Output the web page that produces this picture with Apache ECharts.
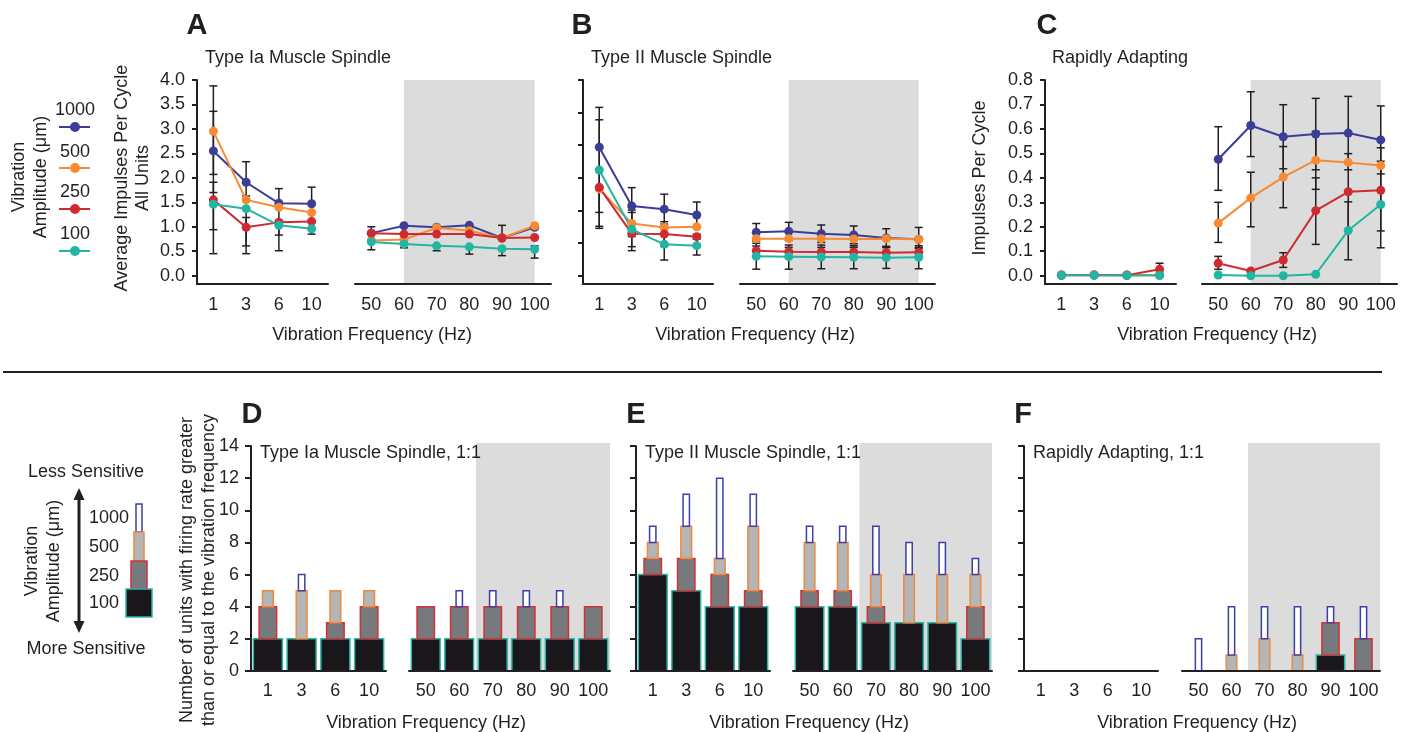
<!DOCTYPE html>
<html>
<head>
<meta charset="utf-8">
<script src="https://cdn.jsdelivr.net/npm/echarts@6/dist/echarts.min.js"></script>
<style>
  html, body { margin: 0; padding: 0; background: #ffffff; }
  #chart { width: 1408px; height: 732px; }
</style>
</head>
<body>
<div id="chart"></div>
<script>
// ---------- data ----------
const LOW_FREQ = ['1', '3', '6', '10'];
const HIGH_FREQ = ['50', '60', '70', '80', '90', '100'];
const AMPLITUDES = ['1000', '500', '250', '100'];
const TOP_SHADE = ['60', '100'];     // shaded frequencies, top row (point to point)
const BOTTOM_SHADE = ['70', '100'];  // shaded frequencies, bottom row (whole bands)

// Tick values of the y axes
const IA_TICKS = [0, 0.5, 1.0, 1.5, 2.0, 2.5, 3.0, 3.5, 4.0];
const II_TICKS = [0, 0.5, 1.0, 1.5, 2.0, 2.5, 3.0];
const RA_TICKS = [0, 0.1, 0.2, 0.3, 0.4, 0.5, 0.6, 0.7, 0.8];
const UNIT_TICKS = [0, 2, 4, 6, 8, 10, 12, 14];

// A: Type Ia muscle spindle, average impulses per cycle (1, 3, 6, 10 | 50 ... 100 Hz)
const ia1000 = [2.55, 1.91, 1.48, 1.47, 0.87, 1.02, 0.99, 1.03, 0.77, 0.99];
const ia500  = [2.95, 1.55, 1.40, 1.29, 0.72, 0.74, 0.98, 0.92, 0.77, 1.02];
const ia250  = [1.55, 0.99, 1.09, 1.11, 0.87, 0.85, 0.85, 0.85, 0.77, 0.78];
const ia100  = [1.46, 1.37, 1.03, 0.96, 0.69, 0.65, 0.61, 0.59, 0.55, 0.54];
// error bars [low, high]
const ia1000Err = [[1.70, 3.36], [1.63, 2.33], [1.13, 1.78], [1.12, 1.81], null, null, null, null, null, null];
const ia500Err  = [[2.07, 3.88], null, null, null, null, null, null, null, null, null];
const ia250Err  = [[0.45, 1.55], [0.45, 1.19], [0.83, 1.09], null, [0.87, 1.00], null, null, [0.85, 0.86], [0.77, 1.03], null];
const ia100Err  = [[0.94, 1.91], [0.61, 1.37], [0.51, 1.03], [0.85, 0.96], [0.53, 0.69], [0.57, 0.65], [0.51, 0.61], [0.44, 0.59], [0.41, 0.55], [0.36, 0.61]];

// B: Type II muscle spindle
const ii1000 = [1.97, 1.07, 1.02, 0.93, 0.665, 0.68, 0.644, 0.624, 0.578, 0.557];
const ii500  = [1.33, 0.80, 0.74, 0.75, 0.568, 0.568, 0.568, 0.563, 0.568, 0.557];
const ii250  = [1.355, 0.644, 0.639, 0.598, 0.384, 0.368, 0.363, 0.363, 0.353, 0.358];
const ii100  = [1.62, 0.711, 0.481, 0.46, 0.297, 0.292, 0.287, 0.282, 0.277, 0.282];
const ii1000Err = [[1.36, 2.58], [0.79, 1.35], [0.79, 1.25], [0.733, 1.129], [0.53, 0.80], [0.54, 0.818], [0.51, 0.777], [0.49, 0.762], [0.44, 0.72], [0.42, 0.74]];
const ii500Err  = [[0.726, 1.33], [0.60, 1.007], null, null, null, null, null, null, null, null];
const ii250Err  = [[0.757, 1.355], [0.384, 0.644], [0.45, 0.828], [0.56, 0.635], [0.31, 0.455], [0.30, 0.435], [0.29, 0.435], [0.29, 0.435], [0.28, 0.43], [0.28, 0.435]];
const ii100Err  = [[0.97, 2.39], [0.445, 0.97], [0.24, 0.72], [0.317, 0.60], [0.10, 0.497], [0.10, 0.47], [0.107, 0.47], [0.107, 0.46], [0.112, 0.45], [0.107, 0.46]];

// C: Rapidly adapting
const ra1000 = [0.003, 0.003, 0.003, 0.003, 0.476, 0.614, 0.568, 0.579, 0.583, 0.555];
const ra500  = [0.003, 0.003, 0.003, 0.003, 0.215, 0.318, 0.403, 0.472, 0.463, 0.450];
const ra250  = [0.002, 0.003, 0.002, 0.026, 0.051, 0.019, 0.064, 0.266, 0.343, 0.349];
const ra100  = [0.002, 0.002, 0.001, 0.001, 0.003, 0.0, 0.0, 0.006, 0.185, 0.291];
const ra1000Err = [null, null, null, null, [0.349, 0.609], [0.487, 0.752], [0.437, 0.699], [0.433, 0.725], [0.433, 0.733], [0.416, 0.694]];
const ra500Err  = [null, null, null, null, [0.136, 0.300], [0.200, 0.423], [0.278, 0.528], [0.353, 0.590], null, null];
const ra250Err  = [null, null, null, [0.0, 0.051], [0.026, 0.079], null, [0.034, 0.094], [0.128, 0.400], [0.187, 0.499], [0.183, 0.523]];
const ra100Err  = [null, null, null, null, null, null, null, null, [0.065, 0.302], [0.114, 0.468]];

// D-F: cumulative number of units following 1:1 at each amplitude
const iaUnits100  = [2, 2, 2, 2, 2, 2, 2, 2, 2, 2];
const iaUnits250  = [4, 2, 3, 4, 4, 4, 4, 4, 4, 4];
const iaUnits500  = [5, 5, 5, 5, 4, 4, 4, 4, 4, 4];
const iaUnits1000 = [5, 6, 5, 5, 4, 5, 5, 5, 5, 4];

const iiUnits100  = [6, 5, 4, 4, 4, 4, 3, 3, 3, 2];
const iiUnits250  = [7, 7, 6, 5, 5, 5, 4, 3, 3, 4];
const iiUnits500  = [8, 9, 7, 9, 8, 8, 6, 6, 6, 6];
const iiUnits1000 = [9, 11, 12, 11, 9, 9, 9, 8, 8, 7];

const raUnits100  = [0, 0, 0, 0, 0, 0, 0, 0, 1, 0];
const raUnits250  = [0, 0, 0, 0, 0, 0, 0, 0, 3, 2];
const raUnits500  = [0, 0, 0, 0, 0, 1, 2, 1, 3, 2];
const raUnits1000 = [0, 0, 0, 0, 2, 4, 4, 4, 4, 4];

// ---------- styling ----------
const FONT = '"Liberation Sans", Arial, Helvetica, sans-serif';
const INK = '#231f20';
const SHADE = '#dcdcdc';
const COLORS = { '1000': '#3b3d97', '500': '#f68b33', '250': '#d02a31', '100': '#22b5a2' };
// nested bars, most sensitive (100 µm) first
const BAR_WIDTHS = [0.86, 0.52, 0.32, 0.19];
const BAR_STYLES = [
  { fill: '#19171b', stroke: '#2cb6a6' },
  { fill: '#77797c', stroke: '#cf3238' },
  { fill: '#b3b5b7', stroke: '#f0893a' },
  { fill: '#ffffff', stroke: '#3b40a4' }
];

const TOP_Y = 80, ZERO_Y = 275.7, AXIS_Y = 284;
const BOT_TOP = 446, BOT_AXIS = 671;

const grids = [], xAxes = [], yAxes = [], series = [];

function addGrid(left, top, width, height) {
  grids.push({ left: left, top: top, width: width, height: height });
  return grids.length - 1;
}

function errorBar(params, api) {
  const x = api.value(0);
  const lo = api.coord([x, api.value(1)]);
  const hi = api.coord([x, api.value(2)]);
  const cap = 4;
  const style = { stroke: INK, lineWidth: 1.5 };
  return {
    type: 'group',
    children: [
      { type: 'line', shape: { x1: lo[0], y1: lo[1], x2: hi[0], y2: hi[1] }, style: style },
      { type: 'line', shape: { x1: lo[0] - cap, y1: lo[1], x2: lo[0] + cap, y2: lo[1] }, style: style },
      { type: 'line', shape: { x1: hi[0] - cap, y1: hi[1], x2: hi[0] + cap, y2: hi[1] }, style: style }
    ]
  };
}

function shadeSeries(ax, range, wholeBands, yTop) {
  return {
    type: 'custom', xAxisIndex: ax, yAxisIndex: ax, silent: true, clip: false, z: 1,
    data: [[HIGH_FREQ.indexOf(range[0]), HIGH_FREQ.indexOf(range[1])]],
    renderItem: function (params, api) {
      const cs = params.coordSys;
      const band = api.size([1, 0])[0];
      const a = api.coord([api.value(0), yTop]);
      const b = api.coord([api.value(1), yTop]);
      let x1 = a[0], x2 = b[0], y1 = a[1];
      if (wholeBands) { x1 -= band / 2; x2 += band / 2; y1 -= 3; }
      return { type: 'rect', shape: { x: x1, y: y1, width: x2 - x1, height: cs.y + cs.height - y1 }, style: { fill: SHADE } };
    }
  };
}

function nestedBars(params, api) {
  const x = api.value(0);
  const band = api.size([1, 0])[0];
  const children = [];
  let prev = 0;
  for (let k = 0; k < 4; k++) {
    const v = api.value(k + 1);
    if (v > prev) {
      const top = api.coord([x, v]);
      const bottom = api.coord([x, prev]);
      const w = band * BAR_WIDTHS[k];
      children.push({
        type: 'rect',
        shape: { x: top[0] - w / 2, y: top[1], width: w, height: bottom[1] - top[1] },
        style: { fill: BAR_STYLES[k].fill, stroke: BAR_STYLES[k].stroke, lineWidth: 1.5 }
      });
      prev = v;
    }
  }
  return { type: 'group', children: children };
}

function categoryAxis(gi, cats, centeredTicks, tickLen) {
  return {
    gridIndex: gi, type: 'category', data: cats, boundaryGap: true, z: 10,
    axisLine: { onZero: false, lineStyle: { color: INK, width: 2 } },
    axisTick: { alignWithLabel: centeredTicks, interval: 0, length: tickLen, lineStyle: { color: INK, width: 2 } },
    axisLabel: { interval: 0, color: INK, fontSize: 18, fontFamily: FONT, margin: centeredTicks ? 12 : 11 },
    splitLine: { show: false }
  };
}

function valueAxis(gi, min, max, ticks, showAxis, showLabels, decimals) {
  return {
    gridIndex: gi, type: 'value', min: min, max: max, show: showAxis, z: 10,
    axisLine: { show: true, lineStyle: { color: INK, width: 2 } },
    axisTick: { show: true, length: 5, customValues: ticks, lineStyle: { color: INK, width: 2 } },
    axisLabel: {
      show: showLabels, customValues: ticks, color: INK, fontSize: 18, fontFamily: FONT, margin: 12,
      formatter: function (v) { return Number(v).toFixed(decimals); }
    },
    splitLine: { show: false }
  };
}

function linePanel(p) {
  const pxPerUnit = (ZERO_Y - TOP_Y) / p.yMax;
  const yMin = -(AXIS_Y - ZERO_Y) / pxPerUnit;
  [LOW_FREQ, HIGH_FREQ].forEach(function (cats, g) {
    const gi = addGrid(p.lefts[g], TOP_Y, p.widths[g], AXIS_Y - TOP_Y);
    xAxes.push(categoryAxis(gi, cats, true, 6));
    yAxes.push(valueAxis(gi, yMin, p.yMax, p.ticks, g === 0, p.labels, 1));
    const off = g === 0 ? 0 : LOW_FREQ.length;
    if (g === 1) series.push(shadeSeries(gi, TOP_SHADE, false, p.yMax));
    const errData = [];
    AMPLITUDES.forEach(function (a) {
      p.errs[a].slice(off, off + cats.length).forEach(function (e, i) {
        if (e) errData.push([i, e[0], e[1]]);
      });
    });
    series.push({ type: 'custom', xAxisIndex: gi, yAxisIndex: gi, data: errData, renderItem: errorBar, silent: true, clip: false, z: 3 });
    AMPLITUDES.forEach(function (a) {
      series.push({
        type: 'line', xAxisIndex: gi, yAxisIndex: gi, name: a,
        data: p.means[a].slice(off, off + cats.length),
        symbol: 'circle', symbolSize: 9, showSymbol: true,
        itemStyle: { color: COLORS[a] }, lineStyle: { color: COLORS[a], width: 2 },
        silent: true, z: 4
      });
    });
  });
}

function barPanel(p) {
  [LOW_FREQ, HIGH_FREQ].forEach(function (cats, g) {
    const gi = addGrid(p.lefts[g], BOT_TOP, p.widths[g], BOT_AXIS - BOT_TOP);
    xAxes.push(categoryAxis(gi, cats, false, 7));
    const ya = valueAxis(gi, 0, 14, UNIT_TICKS, g === 0, p.labels, 0);
    ya.axisTick.length = 6;
    yAxes.push(ya);
    const off = g === 0 ? 0 : LOW_FREQ.length;
    if (g === 1) series.push(shadeSeries(gi, BOTTOM_SHADE, true, 14));
    const data = cats.map(function (c, i) {
      const j = off + i;
      return [i, p.units[0][j], p.units[1][j], p.units[2][j], p.units[3][j]];
    });
    series.push({ type: 'custom', xAxisIndex: gi, yAxisIndex: gi, data: data, renderItem: nestedBars, silent: true, clip: false, z: 3 });
  });
}

linePanel({ lefts: [197, 355], widths: [131, 196], yMax: 4.0, ticks: IA_TICKS, labels: true,
  means: { '1000': ia1000, '500': ia500, '250': ia250, '100': ia100 },
  errs: { '1000': ia1000Err, '500': ia500Err, '250': ia250Err, '100': ia100Err } });
linePanel({ lefts: [583, 740], widths: [130, 195], yMax: 3.0, ticks: II_TICKS, labels: false,
  means: { '1000': ii1000, '500': ii500, '250': ii250, '100': ii100 },
  errs: { '1000': ii1000Err, '500': ii500Err, '250': ii250Err, '100': ii100Err } });
linePanel({ lefts: [1045, 1202], widths: [131, 195], yMax: 0.8, ticks: RA_TICKS, labels: true,
  means: { '1000': ra1000, '500': ra500, '250': ra250, '100': ra100 },
  errs: { '1000': ra1000Err, '500': ra500Err, '250': ra250Err, '100': ra100Err } });

barPanel({ lefts: [251, 409], widths: [135, 201], labels: true,
  units: [iaUnits100, iaUnits250, iaUnits500, iaUnits1000] });
barPanel({ lefts: [636, 793], widths: [134, 199], labels: false,
  units: [iiUnits100, iiUnits250, iiUnits500, iiUnits1000] });
barPanel({ lefts: [1024, 1182], widths: [134, 198], labels: false,
  units: [raUnits100, raUnits250, raUnits500, raUnits1000] });

// ---------- text, legends, separator ----------
function txt(text, x, y, opts) {
  opts = opts || {};
  return {
    type: 'text', x: x, y: y, rotation: opts.rotation || 0, silent: true, z: 20,
    style: {
      text: text, x: 0, y: 0, fill: INK,
      font: (opts.weight || 'normal') + ' ' + (opts.size || 18) + 'px ' + FONT,
      align: opts.align || 'center', verticalAlign: 'middle',
      lineHeight: opts.lineHeight || 22
    }
  };
}

const graphics = [];
[['A', 197, 26], ['B', 582, 26], ['C', 1047, 26], ['D', 252, 415], ['E', 636, 415], ['F', 1023, 415]]
  .forEach(function (l) { graphics.push(txt(l[0], l[1], l[2], { weight: 'bold', size: 29 })); });

[['Type Ia Muscle Spindle', 205, 58], ['Type II Muscle Spindle', 591, 58], ['Rapidly Adapting', 1052, 58],
 ['Type Ia Muscle Spindle, 1:1', 260, 453], ['Type II Muscle Spindle, 1:1', 645, 453], ['Rapidly Adapting, 1:1', 1033, 453]]
  .forEach(function (t) { graphics.push(txt(t[0], t[1], t[2], { align: 'left' })); });

[[372, 335], [755, 335], [1217, 335], [426, 723], [809, 723], [1197, 723]]
  .forEach(function (p) { graphics.push(txt('Vibration Frequency (Hz)', p[0], p[1])); });

const UP = -Math.PI / 2 * -1;
graphics.push(txt('Average Impulses Per Cycle\nAll Units', 133, 178, { rotation: UP, lineHeight: 21 }));
graphics.push(txt('Impulses Per Cycle', 980, 178, { rotation: UP }));
graphics.push(txt('Number of units with firing rate greater\nthan or equal to the vibration frequency', 198, 570, { rotation: UP, lineHeight: 22 }));

// line legend (top row)
graphics.push(txt('Vibration\nAmplitude (\u03bcm)', 30, 177, { rotation: UP, lineHeight: 22 }));
[['1000', 110, 127], ['500', 152, 168], ['250', 192, 209], ['100', 234, 251]].forEach(function (r) {
  graphics.push(txt(r[0], 75, r[1]));
  graphics.push({ type: 'line', silent: true, z: 20, shape: { x1: 59, y1: r[2], x2: 90, y2: r[2] }, style: { stroke: COLORS[r[0]], lineWidth: 2 } });
  graphics.push({ type: 'circle', silent: true, z: 21, shape: { cx: 75, cy: r[2], r: 5 }, style: { fill: COLORS[r[0]] } });
});

// bar legend (bottom row)
graphics.push(txt('Less Sensitive', 86, 472));
graphics.push(txt('More Sensitive', 86, 649));
graphics.push(txt('Vibration\nAmplitude (\u03bcm)', 43, 561, { rotation: UP, lineHeight: 22 }));
graphics.push({ type: 'line', silent: true, z: 20, shape: { x1: 79, y1: 497, x2: 79, y2: 624 }, style: { stroke: INK, lineWidth: 3 } });
graphics.push({ type: 'polygon', silent: true, z: 20, shape: { points: [[79, 488], [73.5, 500], [84.5, 500]] }, style: { fill: INK } });
graphics.push({ type: 'polygon', silent: true, z: 20, shape: { points: [[79, 633], [73.5, 621], [84.5, 621]] }, style: { fill: INK } });
[['1000', 518, 136, 504, 6, 28, 3], ['500', 547, 134, 532, 10, 29, 2], ['250', 576, 131, 561, 16, 28, 1], ['100', 603, 126, 589, 26, 28, 0]]
  .forEach(function (r) {
    graphics.push(txt(r[0], 89, r[1], { align: 'left' }));
    graphics.push({ type: 'rect', silent: true, z: 20, shape: { x: r[2], y: r[3], width: r[4], height: r[5] },
      style: { fill: BAR_STYLES[r[6]].fill, stroke: BAR_STYLES[r[6]].stroke, lineWidth: 1.5 } });
  });

// separator between the two rows
graphics.push({ type: 'line', silent: true, z: 20, shape: { x1: 3, y1: 372, x2: 1382, y2: 372 }, style: { stroke: INK, lineWidth: 2 } });

const chart = echarts.init(document.getElementById('chart'), null, { renderer: 'canvas', width: 1408, height: 732 });
chart.setOption({
  animation: false,
  backgroundColor: '#ffffff',
  textStyle: { fontFamily: FONT },
  grid: grids,
  xAxis: xAxes,
  yAxis: yAxes,
  series: series,
  graphic: { elements: graphics }
});
</script>
</body>
</html>
